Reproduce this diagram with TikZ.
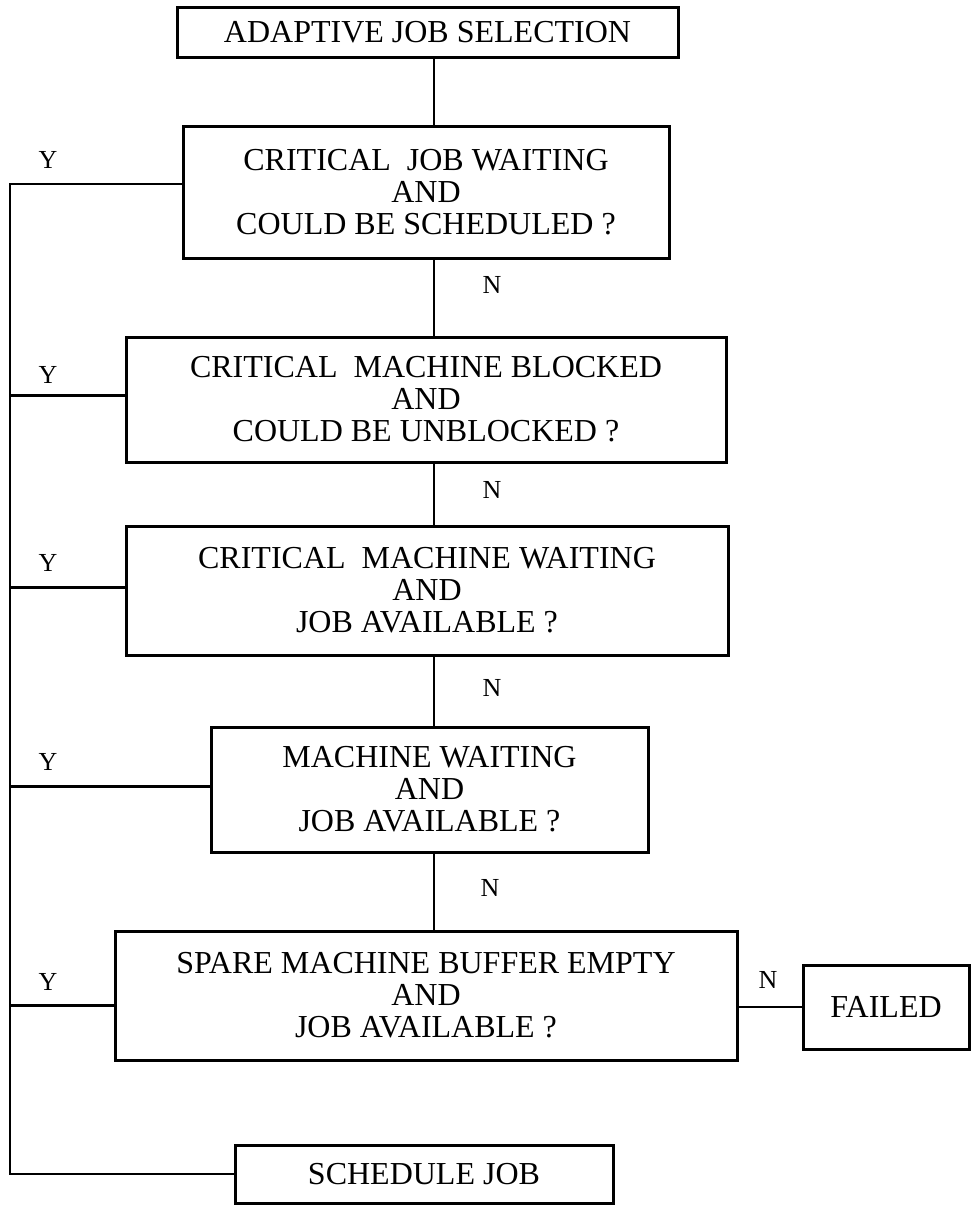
\documentclass[tikz,border=0pt]{standalone}
\usepackage{fontspec}
\setmainfont{Liberation Serif}
\begin{document}
\begin{tikzpicture}[x=1pt,y=-1pt,
  box/.style={draw, line width=3pt, inner sep=0pt, align=center, font=\fontsize{32}{32}\selectfont},
  lbl/.style={inner sep=0pt, font=\fontsize{26}{26}\selectfont},
  wire/.style={line width=2.6pt}]
\useasboundingbox (0,0) rectangle (971,1205);
\node[box, minimum width=501pt, minimum height=50pt] (sel) at (427.5,32) {ADAPTIVE JOB SELECTION};
\node[box, minimum width=486pt, minimum height=132pt] (q1) at (426,192) {CRITICAL\ \ JOB WAITING\\AND\\COULD BE SCHEDULED ?};
\node[box, minimum width=600pt, minimum height=125pt] (q2) at (426,399.5) {CRITICAL\ \ MACHINE BLOCKED\\AND\\COULD BE UNBLOCKED ?};
\node[box, minimum width=602pt, minimum height=129pt] (q3) at (427,590.5) {CRITICAL\ \ MACHINE WAITING\\AND\\JOB AVAILABLE ?};
\node[box, minimum width=437pt, minimum height=125pt] (q4) at (429.5,789.5) {MACHINE WAITING\\AND\\JOB AVAILABLE ?};
\node[box, minimum width=622pt, minimum height=129pt] (q5) at (426,995.5) {SPARE MACHINE BUFFER EMPTY\\AND\\JOB AVAILABLE ?};
\node[box, minimum width=166pt, minimum height=84pt] (failed) at (886,1007) {FAILED};
\node[box, minimum width=378pt, minimum height=58pt] (sched) at (424,1174) {SCHEDULE JOB};
\coordinate (spine) at (434,0);
\coordinate (bus) at (10,0);
\draw[wire] (sel.south -| spine) -- (q1.north -| spine);
\draw[wire] (q1.south -| spine) -- (q2.north -| spine);
\draw[wire] (q2.south -| spine) -- (q3.north -| spine);
\draw[wire] (q3.south -| spine) -- (q4.north -| spine);
\draw[wire] (q4.south -| spine) -- (q5.north -| spine);
\draw[wire] ([yshift=8pt]q1.west) -- ([yshift=8pt]q1.west -| bus) -- (sched.west -| bus) -- (sched.west);
\draw[wire] ([yshift=4pt]q2.west) -- ([yshift=4pt]q2.west -| bus);
\draw[wire] ([yshift=3pt]q3.west) -- ([yshift=3pt]q3.west -| bus);
\draw[wire] ([yshift=3pt]q4.west) -- ([yshift=3pt]q4.west -| bus);
\draw[wire] ([yshift=-10pt]q5.west) -- ([yshift=-10pt]q5.west -| bus);
\draw[wire] (q5.east |- failed.west) -- (failed.west);
\node[lbl] (y1) at (48,160) {Y};
\node[lbl] (y2) at (48,375) {Y};
\node[lbl] (y3) at (48,563) {Y};
\node[lbl] (y4) at (48,762) {Y};
\node[lbl] (y5) at (48,982) {Y};
\node[lbl] (n1) at (492,285) {N};
\node[lbl] (n2) at (492,490) {N};
\node[lbl] (n3) at (492,688) {N};
\node[lbl] (n4) at (490,888) {N};
\node[lbl] (n5) at (768,980) {N};
\end{tikzpicture}
\end{document}
